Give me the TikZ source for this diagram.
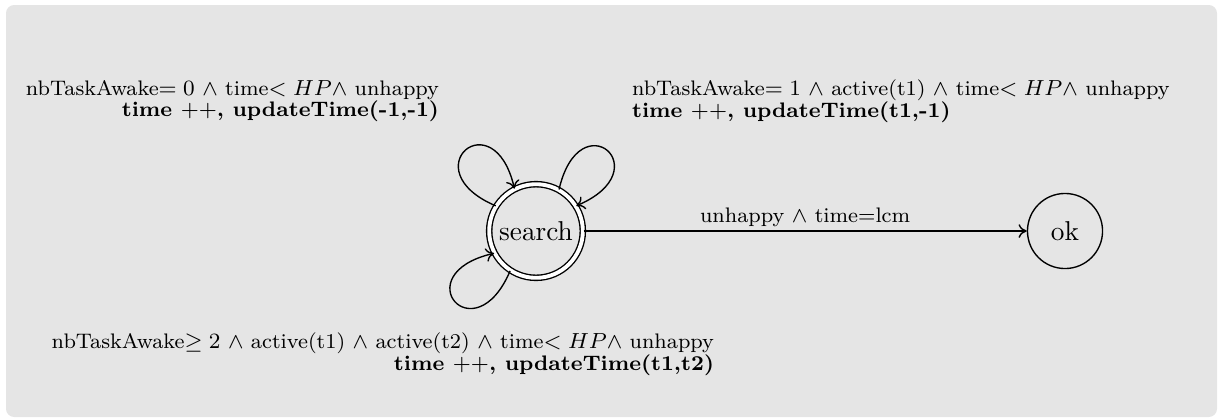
\documentclass[tikz,border=0pt]{standalone}
\usetikzlibrary{arrows.meta}
\begin{document}
\begin{tikzpicture}[x=0.3663pt,y=0.3663pt,
  lbl/.style={font=\fontsize{7.7}{8}\selectfont, inner sep=0pt, outer sep=0pt},
  st/.style={circle, draw, line width=0.5pt, inner sep=0pt},
  loopline/.style={->, line width=0.5pt, >={To[length=3pt,width=5pt]}},
  edgeline/.style={->, line width=0.5pt, >={To[length=3pt,width=5pt]}}]
\useasboundingbox (0,0) rectangle (1227,419);
\fill[gray!20, rounded corners=3pt] (6,2) rectangle (1217,414);
\node[st, double, double distance=1.4pt, minimum size=34.3pt] (s) at (536,188) {search};
\node[st, minimum size=27.5pt] (ok) at (1065,188) {ok};
\draw[edgeline] (s) -- node[above, lbl, yshift=1.4pt] (el) {unhappy $\wedge$ time=lcm} (ok);
% loops
\draw[loopline] (s.148) .. controls +(157:92) and +(103:92) .. (s.117);
\draw[loopline] (s.61) .. controls +(77:92) and +(23:92) .. (s.32);
\draw[loopline] (s.237) .. controls +(247:92) and +(193:92) .. (s.208);
% labels
\node[lbl, anchor=north east, align=right] (tl) at (439,339) {nbTaskAwake$= 0$ $\wedge$ time$< HP \wedge$ unhappy\\ \textbf{time $++$, updateTime(-1,-1)}};
\node[lbl, anchor=north west, align=left] (tr) at (632,339) {nbTaskAwake$= 1$ $\wedge$ active(t1) $\wedge$ time$< HP \wedge$ unhappy\\ \textbf{time $++$, updateTime(t1,-1)}};
\node[lbl, anchor=north east, align=right] (bl) at (714,86) {nbTaskAwake$\geq 2$ $\wedge$ active(t1) $\wedge$ active(t2) $\wedge$ time$< HP \wedge$ unhappy\\ \textbf{time $++$, updateTime(t1,t2)}};
\end{tikzpicture}
\end{document}
